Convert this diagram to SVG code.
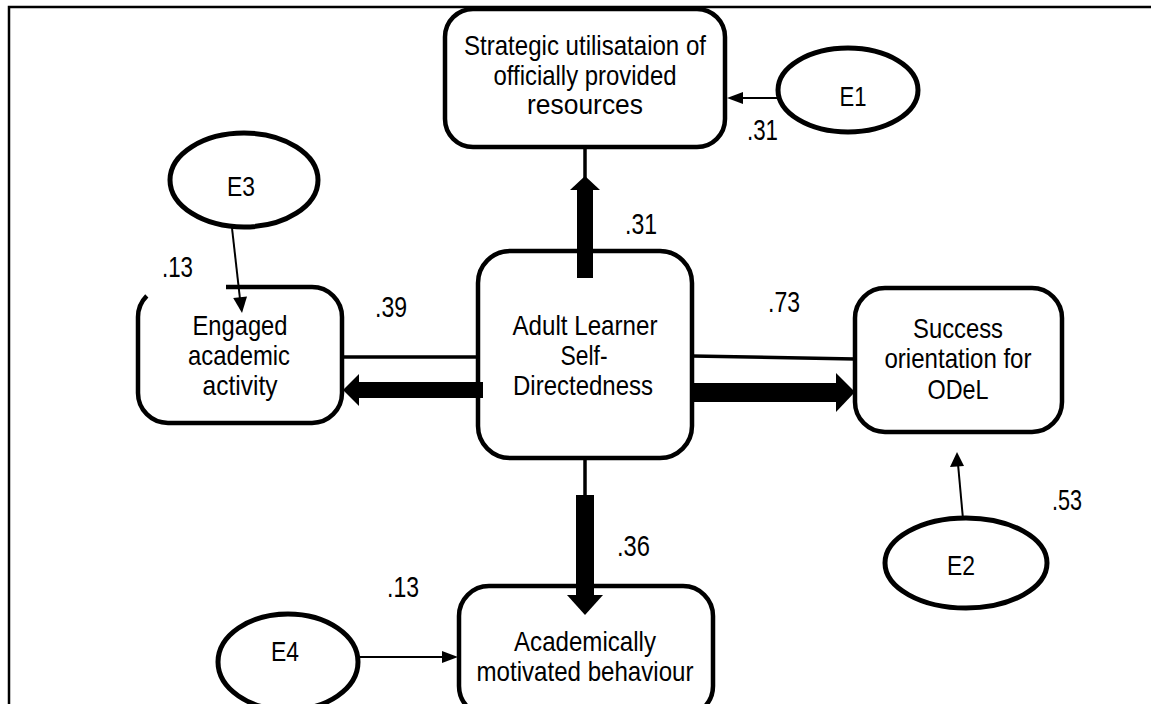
<svg xmlns="http://www.w3.org/2000/svg" width="1151" height="704" viewBox="0 0 1151 704">
<style>
.bg{fill:#fff}
.box{fill:#fff;stroke:#000;stroke-width:4.5}
.ell{fill:#fff;stroke:#000;stroke-width:5}
.t{font-family:"Liberation Sans",Arial,sans-serif;font-size:28.5px;fill:#000;text-anchor:middle}
.n{font-family:"Liberation Sans",Arial,sans-serif;font-size:29.5px;fill:#000}
.thin{stroke:#000;stroke-width:2;fill:none}
.mid{stroke:#000;stroke-width:3.5;fill:none}
.fill{fill:#000;stroke:none}
</style>
<rect class="bg" x="0" y="0" width="1151" height="704"/>
<path d="M9 704 V7 H1151" fill="none" stroke="#000" stroke-width="2.5"/>

<g id="node-strategic">
  <rect class="box" x="445" y="9" width="280" height="138" rx="28"/>
  <text class="t" x="585" y="55" textLength="242" lengthAdjust="spacingAndGlyphs">Strategic utilisataion of</text>
  <text class="t" x="585" y="85" textLength="183" lengthAdjust="spacingAndGlyphs">officially provided</text>
  <text class="t" x="585" y="114" textLength="116" lengthAdjust="spacingAndGlyphs">resources</text>
</g>

<g id="node-e1">
  <ellipse class="ell" cx="848" cy="90" rx="70" ry="42"/>
  <text class="t" x="853" y="106" textLength="27" lengthAdjust="spacingAndGlyphs">E1</text>
</g>

<g id="node-central">
  <rect class="box" x="478" y="251" width="214" height="207" rx="32"/>
  <text class="t" x="585" y="335" textLength="145" lengthAdjust="spacingAndGlyphs">Adult Learner</text>
  <text class="t" x="584" y="365" textLength="47" lengthAdjust="spacingAndGlyphs">Self-</text>
  <text class="t" x="583" y="395" textLength="140" lengthAdjust="spacingAndGlyphs">Directedness</text>
</g>

<g id="node-e3">
  <ellipse class="ell" cx="244" cy="180" rx="74" ry="47"/>
  <text class="t" x="241" y="196" textLength="28" lengthAdjust="spacingAndGlyphs">E3</text>
</g>

<g id="node-engaged">
  <path class="box" d="M226 287 H312 A30 30 0 0 1 342 317 V393 A30 30 0 0 1 312 423 H168 A30 30 0 0 1 138 393 V317 A30 30 0 0 1 146.8 295.8"/>
  <text class="t" x="240" y="335" textLength="95" lengthAdjust="spacingAndGlyphs">Engaged</text>
  <text class="t" x="239" y="365" textLength="102" lengthAdjust="spacingAndGlyphs">academic</text>
  <text class="t" x="240" y="395" textLength="75" lengthAdjust="spacingAndGlyphs">activity</text>
</g>

<g id="node-success">
  <rect class="box" x="855" y="288" width="207" height="144" rx="30"/>
  <text class="t" x="958" y="338" textLength="90" lengthAdjust="spacingAndGlyphs">Success</text>
  <text class="t" x="958" y="368" textLength="147" lengthAdjust="spacingAndGlyphs">orientation for</text>
  <text class="t" x="958" y="399" textLength="61" lengthAdjust="spacingAndGlyphs">ODeL</text>
</g>

<g id="node-e2">
  <ellipse class="ell" cx="966" cy="563" rx="81" ry="45"/>
  <text class="t" x="961" y="575" textLength="28" lengthAdjust="spacingAndGlyphs">E2</text>
</g>

<g id="node-academically">
  <rect class="box" x="459" y="586" width="254" height="130" rx="30"/>
  <text class="t" x="585" y="651" textLength="142" lengthAdjust="spacingAndGlyphs">Academically</text>
  <text class="t" x="585" y="681" textLength="217" lengthAdjust="spacingAndGlyphs">motivated behaviour</text>
</g>

<g id="node-e4">
  <ellipse class="ell" cx="288" cy="662" rx="70" ry="48"/>
  <text class="t" x="285" y="661" textLength="28" lengthAdjust="spacingAndGlyphs">E4</text>
</g>

<g id="connectors">
  <line class="mid" x1="585" y1="149" x2="585" y2="180" stroke-width="4"/>
  <polygon class="fill" points="585,176 600,190 570,190"/>
  <rect class="fill" x="577" y="189" width="16" height="89"/>
  <line class="thin" x1="778" y1="98" x2="742" y2="98"/>
  <polygon class="fill" points="727,98 743,92 743,104"/>
  <line class="thin" x1="232" y1="228" x2="240" y2="299"/>
  <polygon class="fill" points="242,313 247,296.4 233.2,298"/>
  <line class="mid" x1="342" y1="357" x2="478" y2="357"/>
  <rect class="fill" x="356" y="382" width="127" height="16"/>
  <polygon class="fill" points="343,390 359,374 359,406"/>
  <line class="mid" x1="692" y1="356" x2="855" y2="359"/>
  <rect class="fill" x="690" y="383" width="148" height="19"/>
  <polygon class="fill" points="855,392 836,373 836,412"/>
  <line class="thin" x1="963" y1="519" x2="958" y2="464"/>
  <polygon class="fill" points="957,452 950,467 964,466"/>
  <line class="mid" x1="585" y1="458" x2="585" y2="497" stroke-width="4"/>
  <rect class="fill" x="576" y="495" width="18" height="100"/>
  <polygon class="fill" points="585,615 567,595 603,595"/>
  <line class="thin" x1="358" y1="657" x2="444" y2="657"/>
  <polygon class="fill" points="458,657 442,651 442,663"/>
</g>

<g id="labels">
  <text class="n" x="747" y="140" textLength="31" lengthAdjust="spacingAndGlyphs">.31</text>
  <text class="n" x="625" y="234" textLength="32" lengthAdjust="spacingAndGlyphs">.31</text>
  <text class="n" x="162" y="277" textLength="31" lengthAdjust="spacingAndGlyphs">.13</text>
  <text class="n" x="375" y="317" textLength="32" lengthAdjust="spacingAndGlyphs">.39</text>
  <text class="n" x="768" y="312" textLength="32" lengthAdjust="spacingAndGlyphs">.73</text>
  <text class="n" x="1052" y="510" textLength="30" lengthAdjust="spacingAndGlyphs">.53</text>
  <text class="n" x="617" y="556" textLength="33" lengthAdjust="spacingAndGlyphs">.36</text>
  <text class="n" x="387" y="597" textLength="32" lengthAdjust="spacingAndGlyphs">.13</text>
</g>
</svg>
